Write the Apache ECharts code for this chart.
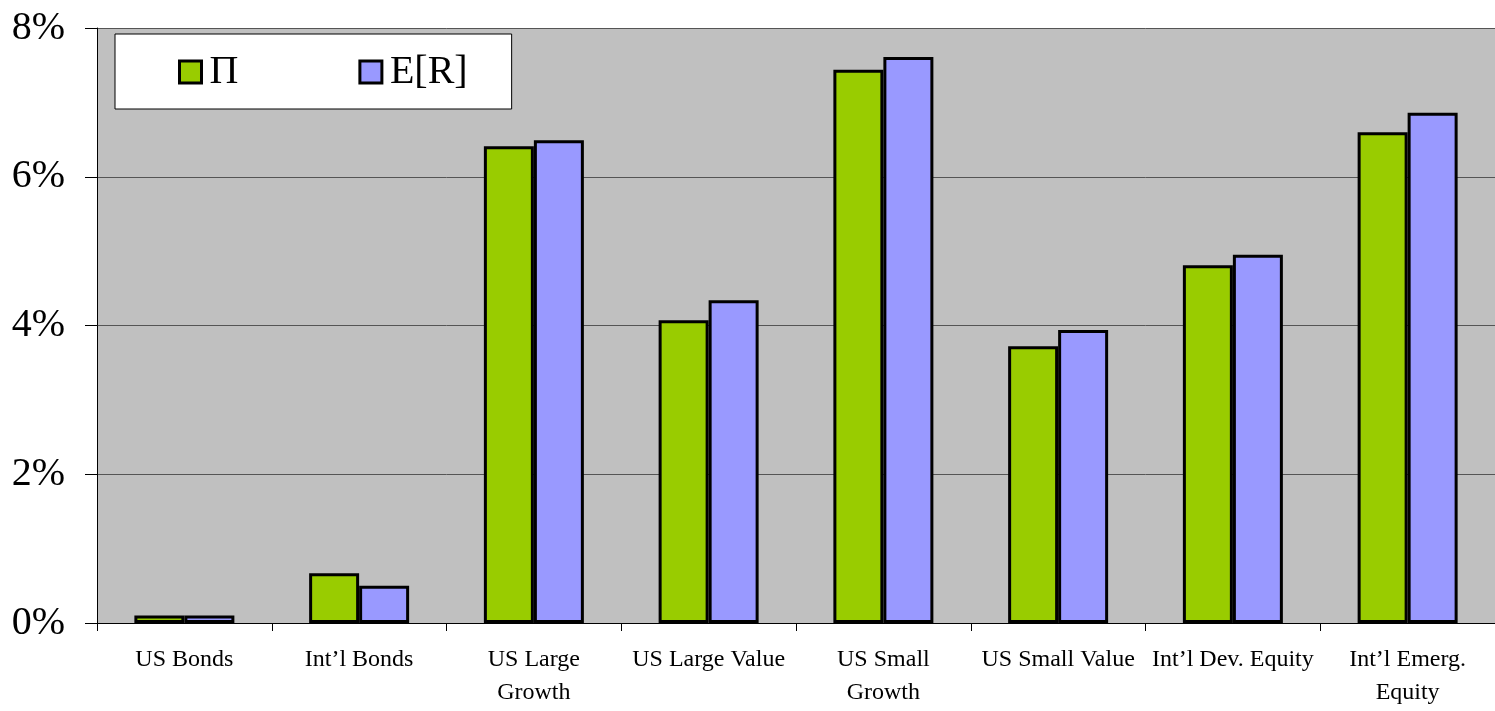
<!DOCTYPE html>
<html>
<head>
<meta charset="utf-8">
<script src="https://cdn.jsdelivr.net/npm/echarts@6/dist/echarts.min.js"></script>
<style>
  html, body { margin: 0; padding: 0; background: #fff; }
  #chart { width: 1495px; height: 711px; }
</style>
</head>
<body>
<div id="chart"></div>
<script>
const categories = [
  'US Bonds', 'Int\u2019l Bonds', 'US Large\nGrowth', 'US Large Value',
  'US Small\nGrowth', 'US Small Value', 'Int\u2019l Dev. Equity', 'Int\u2019l Emerg.\nEquity'
]
const piValues = [0.1, 0.67, 6.41, 4.07, 7.44, 3.72, 4.81, 6.60]
const erValues = [0.1, 0.50, 6.49, 4.34, 7.61, 3.94, 4.95, 6.86]
const yTicks = [0, 2, 4, 6, 8]

const serif = 'Liberation Serif'
const chart = echarts.init(document.getElementById('chart'))

chart.setOption({
  animation: false,
  textStyle: { fontFamily: serif, color: '#000' },
  grid: { left: 97, right: 0, top: 28, bottom: 88, show: true, backgroundColor: '#c0c0c0', borderWidth: 0 },
  legend: {
    left: 115,
    top: 34,
    orient: 'horizontal',
    icon: 'rect',
    backgroundColor: '#fff',
    borderColor: '#000',
    borderWidth: 1,
    padding: [18, 44, 17, 63],
    itemWidth: 22,
    itemHeight: 22,
    itemGap: 120,
    itemStyle: { borderColor: '#000', borderWidth: 3 },
    textStyle: { fontFamily: serif, fontSize: 40, color: '#000', padding: [0, 0, 0, 3] },
    data: ['\u03a0', 'E[R]']
  },
  xAxis: {
    type: 'category',
    data: categories,
    axisLine: { lineStyle: { color: '#000', width: 1 } },
    axisTick: { show: true, length: 8, lineStyle: { color: '#000' } },
    axisLabel: {
      interval: 0,
      fontFamily: serif,
      fontSize: 24,
      lineHeight: 33,
      color: '#000',
      margin: 20
    }
  },
  yAxis: {
    type: 'value',
    min: yTicks[0],
    max: yTicks[yTicks.length - 1],
    interval: 2,
    axisLine: { show: true, lineStyle: { color: '#000', width: 1 } },
    axisTick: { show: true, length: 12, lineStyle: { color: '#000' } },
    axisLabel: {
      formatter: '{value}%',
      fontFamily: serif,
      fontSize: 40,
      color: '#000',
      margin: 32
    },
    splitLine: { show: true, lineStyle: { color: '#555', width: 1 } }
  },
  series: [
    {
      name: '\u03a0',
      type: 'bar',
      data: piValues,
      barWidth: 50,
      barGap: '0%',
      itemStyle: { color: '#99cc00', borderColor: '#000', borderWidth: 3 }
    },
    {
      name: 'E[R]',
      type: 'bar',
      data: erValues,
      barWidth: 50,
      barGap: '0%',
      itemStyle: { color: '#9999ff', borderColor: '#000', borderWidth: 3 }
    }
  ]
})
</script>
</body>
</html>
